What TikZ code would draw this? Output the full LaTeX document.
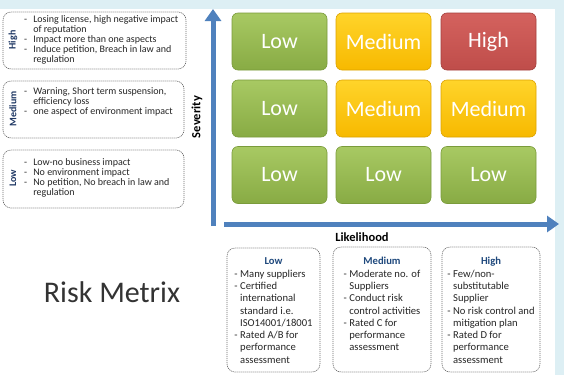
\documentclass[tikz,border=0pt]{standalone}
\usepackage{fontspec}
\setmainfont{Carlito}
\usetikzlibrary{arrows.meta}
\definecolor{bgband}{HTML}{DDEFF4}
\definecolor{axisblue}{HTML}{4F81BD}
\definecolor{gtop}{HTML}{A8C963}
\definecolor{gbot}{HTML}{88AB44}
\definecolor{gline}{HTML}{7A9B3B}
\definecolor{ytop}{HTML}{FFD42A}
\definecolor{ybot}{HTML}{F7B900}
\definecolor{yline}{HTML}{DDA300}
\definecolor{rtop}{HTML}{D4625E}
\definecolor{rbot}{HTML}{BF4D4A}
\definecolor{rline}{HTML}{A4403D}
\definecolor{navy}{HTML}{1F3864}
\definecolor{hdblue}{HTML}{1F497D}
\definecolor{txt}{HTML}{262626}
\definecolor{dashgrey}{HTML}{6A6A6A}
\tikzset{
  cellbox/.style={rounded corners=6pt, minimum width=95pt, minimum height=57pt,
    text=white, font=\fontsize{22}{24}\selectfont, inner sep=0pt},
  greencell/.style={cellbox, draw=gline, line width=0.6pt, top color=gtop, bottom color=gbot},
  yellowcell/.style={cellbox, draw=yline, line width=0.6pt, top color=ytop, bottom color=ybot},
  redcell/.style={cellbox, draw=rline, line width=0.6pt, top color=rtop, bottom color=rbot},
  dashbox/.style={draw=dashgrey, line width=0.6pt, dash pattern=on 1.2pt off 0.8pt, rounded corners=8pt, fill=white},
  sidelabel/.style={rotate=90, text=navy, font=\fontsize{10}{11}\selectfont\bfseries},
  sidetext/.style={anchor=north west, inner sep=0pt, text=txt, font=\fontsize{10}{9.9}\selectfont},
  bottext/.style={anchor=north, inner sep=0pt, text=txt, font=\fontsize{10.6}{12.3}\selectfont},
  axis/.style={draw=axisblue, line width=5pt, -{Triangle[width=16pt,length=12pt]}},
  axislabel/.style={font=\fontsize{12.5}{14}\selectfont\bfseries, text=black}
}
\begin{document}
\begin{tikzpicture}[x=1pt,y=-1pt]
% background
\fill[white] (0,0) rectangle (564,375);
\useasboundingbox (0,0) rectangle (564,375);
\fill[bgband] (0,0) rectangle (564,9);
\fill[bgband] (555,0) rectangle (564,375);

% left severity boxes
\draw[dashbox] (3,12) rectangle (186,69);
\draw[dashbox] (3,81) rectangle (184,138);
\draw[dashbox] (3,150) rectangle (184,208);
\node[sidelabel] (lhigh) at (13,40) {High};
\node[sidelabel] (lmed) at (13,109) {Medium};
\node[sidelabel] (llow) at (13,178) {Low};
\node[sidetext] (thigh) at (24,15.5) {\begin{tabular}{@{}l@{\hspace{6pt}}l@{}}
-&Losing license, high negative impact\\
 &of reputation\\
-&Impact more than one aspects\\
-&Induce petition, Breach in law and\\
 &regulation\end{tabular}};
\node[sidetext] (tmed) at (24,87.5) {\begin{tabular}{@{}l@{\hspace{6pt}}l@{}}
-&Warning, Short term suspension,\\
 &efficiency loss\\
-&one aspect of environment impact\end{tabular}};
\node[sidetext] (tlow) at (24,158.5) {\begin{tabular}{@{}l@{\hspace{6pt}}l@{}}
-&Low-no business impact\\
-&No environment impact\\
-&No petition, No breach in law and\\
 &regulation\end{tabular}};

% axes
\coordinate (yorig) at (213,226);
\coordinate (ytip) at (213,9);
\coordinate (xorig) at (224,224);
\coordinate (xtip) at (559,224);
\draw[axis] (yorig) -- (ytip);
\draw[axis] (xorig) -- (xtip);
\node[axislabel, rotate=90] (sev) at (197,117) {Severity};
\node[axislabel] (lik) at (362,237) {Likelihood};

% grid cells
\node[greencell] (c11) at (279.5,41.5) {Low};
\node[yellowcell] (c12) at (383.5,41.5) {Medium};
\node[redcell] (c13) at (488.5,41.5) {High};
\node[greencell] (c21) at (279.5,108.5) {Low};
\node[yellowcell] (c22) at (383.5,108.5) {Medium};
\node[yellowcell] (c23) at (488.5,108.5) {Medium};
\node[greencell] (c31) at (279.5,175) {Low};
\node[greencell] (c32) at (383.5,175) {Low};
\node[greencell] (c33) at (488.5,175) {Low};

% likelihood boxes
\draw[dashbox] (227,248) rectangle (320,372);
\draw[dashbox] (333,247) rectangle (431,372);
\draw[dashbox] (442,247) rectangle (540,372);
\node[bottext] (blow) at (273.5,256) {\begin{tabular}{@{}l@{\hspace{2.5pt}}l@{}}
\multicolumn{2}{c}{\textcolor{hdblue}{\bfseries Low}}\\
-&Many suppliers\\
-&Certified\\
 &international\\
 &standard i.e.\\
 &ISO14001/18001\\
-&Rated A/B for\\
 &performance\\
 &assessment\end{tabular}};
\node[bottext] (bmed) at (382,256) {\begin{tabular}{@{}l@{\hspace{2.5pt}}l@{}}
\multicolumn{2}{c}{\textcolor{hdblue}{\bfseries Medium}}\\
-&Moderate no. of\\
 &Suppliers\\
-&Conduct risk\\
 &control activities\\
-&Rated C for\\
 &performance\\
 &assessment\end{tabular}};
\node[bottext] (bhigh) at (491,256) {\begin{tabular}{@{}l@{\hspace{2.5pt}}l@{}}
\multicolumn{2}{c}{\textcolor{hdblue}{\bfseries High}}\\
-&Few/non-\\
 &substitutable\\
 &Supplier\\
-&No risk control and\\
 &mitigation plan\\
-&Rated D for\\
 &performance\\
 &assessment\end{tabular}};

% title
\node[text=black!80, font=\fontsize{30}{32}\selectfont] (title) at (112,292) {Risk Metrix};
\end{tikzpicture}
\end{document}
